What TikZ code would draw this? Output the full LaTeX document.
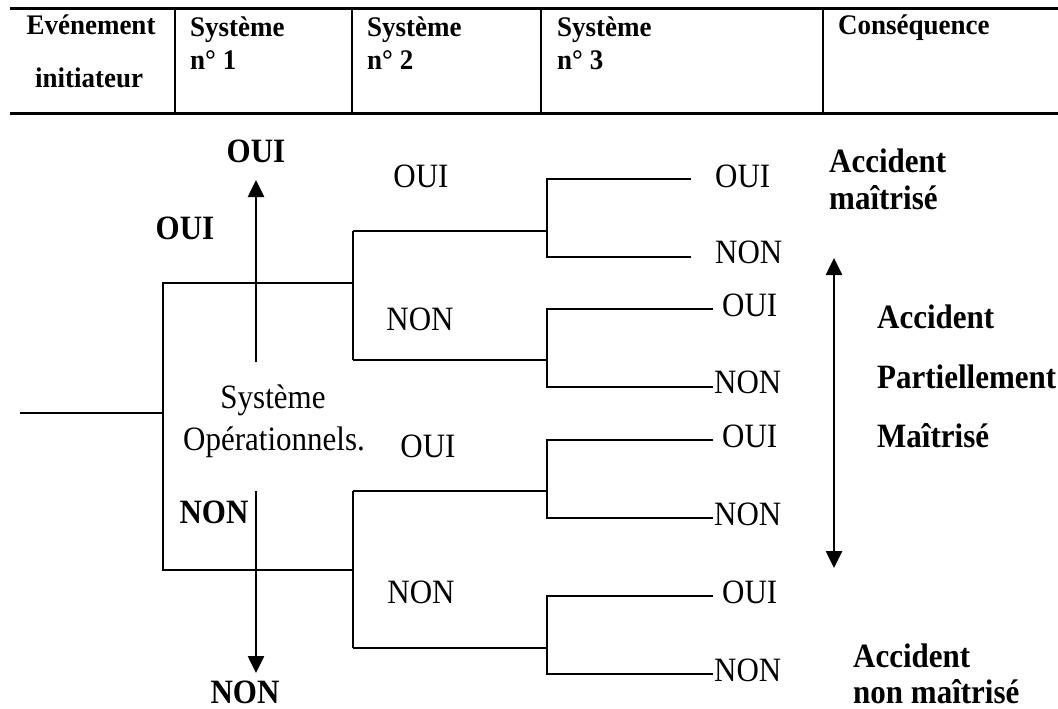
\documentclass[tikz,border=0pt]{standalone}
\usepackage{fontspec}
\setmainfont{Liberation Serif}
\usetikzlibrary{arrows.meta}

\tikzset{
  x=1pt, y=-1pt,
  rule/.style={line width=3pt},
  sep/.style={line width=2pt},
  branch/.style={line width=2pt},
  bigarrow/.style={line width=2.6pt, -{Triangle[width=16pt,length=17pt]}},
  bothway/.style={line width=2.6pt, {Triangle[width=16pt,length=17pt]}-{Triangle[width=16pt,length=17pt]}},
  head/.style={inner sep=0pt, yscale=1.05, font=\fontsize{27}{32}\selectfont\bfseries},
  lbl/.style={inner sep=0pt, yscale=1.1, font=\fontsize{31}{36}\selectfont},
  blbl/.style={lbl, font=\fontsize{31}{36}\selectfont\bfseries},
}

\begin{document}
\begin{tikzpicture}
\useasboundingbox (0,0) rectangle (1058,709);

% ---- header table ----
\coordinate (tl) at (10,8.5);   \coordinate (tr) at (1058,8.5);
\coordinate (bl) at (10,113);   \coordinate (br) at (1058,113);
\draw[rule] (tl) -- (tr);
\draw[rule] (bl) -- (br);
\foreach \c [count=\i] in {175,352,541,823}{
  \coordinate (ct\i) at (\c,8.5);
  \coordinate (cb\i) at (\c,113);
  \draw[sep] (ct\i) -- (cb\i);
}
\node[head, anchor=base] (h0a) at (91,35) {Evénement};
\node[head, anchor=base] (h0b) at (89,88) {initiateur};
\node[head, anchor=base west] (h1a) at (190,37) {Système};
\node[head, anchor=base west] (h1b) at (190,70) {n° 1};
\node[head, anchor=base west] (h2a) at (367,37) {Système};
\node[head, anchor=base west] (h2b) at (367,70) {n° 2};
\node[head, anchor=base west] (h3a) at (557,37) {Système};
\node[head, anchor=base west] (h3b) at (557,70) {n° 3};
\node[head, anchor=base west] (h4) at (838,35) {Conséquence};

% ---- event tree ----
\coordinate (ev)  at (20,413);
\coordinate (s1)  at (163,413);
\coordinate (s1t) at (163,283);
\coordinate (s1b) at (163,570);
\coordinate (s2t) at (353,283);
\coordinate (s2b) at (353,570);
\draw[branch] (ev) -- (s1);
\draw[branch] (s2t) -- (s1t) -- (s1b) -- (s2b);

% system 2 forks
\coordinate (u1) at (353,231); \coordinate (u2) at (353,360);
\coordinate (d1) at (353,491); \coordinate (d2) at (353,648);
\draw[branch] (u1) -- (u2);
\draw[branch] (d1) -- (d2);

% system 3 forks: y of the stem, top branch, bottom branch, branch end
\foreach \n/\y/\t/\b/\e in {1/231/179/257/691, 2/360/309/387/713, 3/491/440/518/713, 4/648/596/674/713}{
  \coordinate (f\n)  at (353,\y);
  \coordinate (g\n)  at (547,\y);
  \coordinate (g\n t) at (547,\t);
  \coordinate (g\n b) at (547,\b);
  \coordinate (e\n t) at (\e,\t);
  \coordinate (e\n b) at (\e,\b);
  \draw[branch] (f\n) -- (g\n);
  \draw[branch] (e\n t) -- (g\n t) -- (g\n b) -- (e\n b);
}

% ---- system 1 arrows ----
\coordinate (upS) at (256,362);  \coordinate (upE) at (256,180);
\coordinate (dnS) at (256,491);  \coordinate (dnE) at (256,673);
\draw[bigarrow] (upS) -- (upE);
\draw[bigarrow] (dnS) -- (dnE);

\node[blbl, anchor=base] (oui0) at (256,162) {OUI};
\node[blbl, anchor=base] (oui1) at (185,239) {OUI};
\node[blbl, anchor=base] (non1) at (214,523) {NON};
\node[blbl, anchor=base] (non0) at (245,703) {NON};
\node[lbl, anchor=base] (sys) at (273,408) {Système};
\node[lbl, anchor=base] (ops) at (274,450) {Opérationnels.};

% ---- system 2 labels ----
\node[lbl, anchor=base] (s2o1) at (421,187) {OUI};
\node[lbl, anchor=base] (s2n1) at (420,330) {NON};
\node[lbl, anchor=base] (s2o2) at (428,457) {OUI};
\node[lbl, anchor=base] (s2n2) at (421,603) {NON};

% ---- system 3 labels ----
\node[lbl, anchor=base west] (o1) at (715,187) {OUI};
\node[lbl, anchor=base west] (n1) at (715,263) {NON};
\node[lbl, anchor=base west] (o2) at (722,316) {OUI};
\node[lbl, anchor=base west] (n2) at (714,393) {NON};
\node[lbl, anchor=base west] (o3) at (722,447) {OUI};
\node[lbl, anchor=base west] (n3) at (714,525) {NON};
\node[lbl, anchor=base west] (o4) at (722,603) {OUI};
\node[lbl, anchor=base west] (n4) at (714,681) {NON};

% ---- consequences ----
\coordinate (cT) at (834,258);  \coordinate (cB) at (834,568);
\draw[bothway] (cT) -- (cB);
\node[blbl, anchor=base west] (c1a) at (829,172) {Accident};
\node[blbl, anchor=base west] (c1b) at (829,209) {maîtrisé};
\node[blbl, anchor=base west] (c2a) at (877,328) {Accident};
\node[blbl, anchor=base west] (c2b) at (877,388) {Partiellement};
\node[blbl, anchor=base west] (c2c) at (877,447) {Maîtrisé};
\node[blbl, anchor=base west] (c3a) at (853,667) {Accident};
\node[blbl, anchor=base west] (c3b) at (853,703) {non maîtrisé};
\end{tikzpicture}
\end{document}
